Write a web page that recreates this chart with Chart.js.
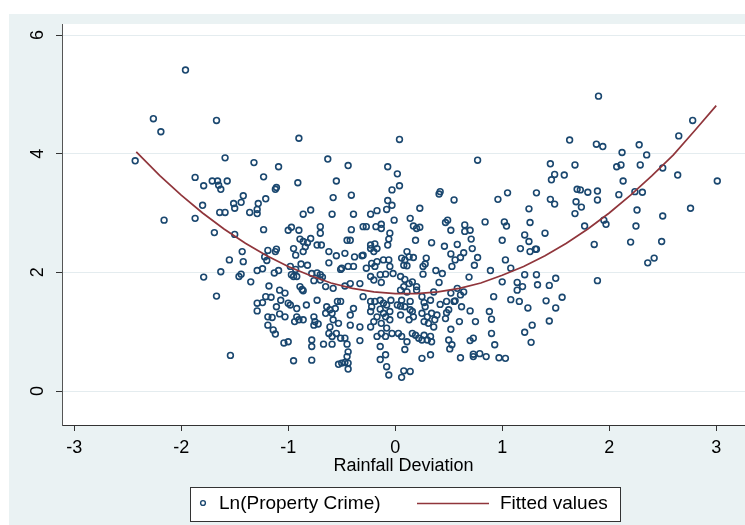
<!DOCTYPE html>
<html>
<head>
<meta charset="utf-8">
<script src="https://cdn.jsdelivr.net/npm/chart.js@4.4.0/dist/chart.umd.min.js"></script>
<style>
  html, body { margin: 0; padding: 0; background: #fff; }
  #wrap { width: 745px; height: 525px; }
</style>
</head>
<body>
<div id="wrap"><canvas id="myChart" width="745" height="525"></canvas></div>
<script>
// data

// rainfall deviation (x) of each county-year point
const rainfallDev = [
  // left part
  -1.96,-2.26,-1.67,-2.19,-2.43,-1.59,-1.32,-1.09,-1.23,-1.87,
  -1.79,-1.71,-1.66,-1.65,-1.63,-1.57,-1.12,-1.11,-1.42,-1.51,
  -1.44,-1.50,-1.28,-1.21,-1.29,-1.36,-1.29,-1.80,-1.64,-1.59,
  -1.87,-2.16,-1.69,-1.50,-1.23,-1.43,-1.19,-1.12,-1.11,-1.55,
  -1.42,-1.22,-1.20,-1.63,-1.79,-1.46,-1.44,-1.35,-1.29,-1.24,
  -1.13,-1.09,-1.67,-1.18,-1.29,-1.24,-1.21,-1.16,-1.29,-1.11,
  -1.19,-1.15,-1.19,-1.14,-1.12,-1.54,-1.08,
  // between -1 and 0
  -0.90,-0.63,-0.44,-0.07,-0.91,-0.55,-0.58,-0.41,-0.07,-0.03,
  -0.86,-0.79,-0.59,-0.39,-0.23,-0.17,-0.08,-0.03,-0.97,-1.00,
  -0.90,-0.70,-0.70,-0.41,-0.30,-0.27,-0.18,-0.13,-0.13,-0.01,
  -0.05,-0.89,-0.86,-0.82,-0.79,-0.84,-0.73,-0.69,-0.45,-0.42,
  -0.23,-0.19,-0.17,-0.06,-0.07,-0.95,-0.93,-0.86,-0.98,-0.93,
  -0.88,-0.82,-0.97,-0.95,-0.92,-0.78,-0.73,-0.70,-0.68,-0.62,
  -0.62,-0.55,-0.47,-0.38,-0.31,-0.50,-0.44,-0.51,-0.39,-0.30,
  -0.23,-0.20,-0.27,-0.22,-0.19,-0.17,-0.11,-0.05,-0.06,-0.14,
  -0.23,-0.09,-0.02,-0.76,-0.70,-0.65,-0.58,-0.42,-0.33,-0.47,
  -0.20,-0.13,-1.08,-1.03,-1.07,-0.89,-0.87,-0.86,-1.00,-0.98,
  -0.92,-0.83,-0.73,-0.64,-0.61,-0.56,-0.54,-0.51,-0.39,-0.30,
  -0.23,-0.19,-0.14,-0.11,-0.08,-0.04,-0.22,-0.14,-0.11,-0.05,
  -1.03,-0.92,-0.90,-0.86,-0.76,-0.75,-0.65,-0.59,-0.42,-0.23,
  -0.17,-0.09,-0.05,-0.94,-0.76,-0.72,-0.58,-0.53,-0.61,-0.42,
  -0.33,-0.23,-0.20,-0.13,-0.62,-0.55,-0.59,-0.51,-0.47,-0.67,
  -0.78,-0.59,-0.45,-0.33,-0.17,-0.13,-0.09,-0.08,-0.03,-1.04,
  -1.00,-0.78,-0.44,-0.45,-0.14,-0.95,-0.78,-0.53,-0.50,-0.47,
  -0.44,-0.44,-0.14,-0.09,-0.08,-0.06,
  // between 0 and 1
  0.04,0.77,0.02,0.04,0.41,0.42,0.55,0.96,1.05,0.23,
  0.14,0.17,0.20,0.23,0.47,0.49,0.52,0.65,0.70,0.65,
  0.84,1.02,1.04,0.19,0.34,0.46,0.58,0.71,1.00,0.11,
  0.06,0.09,0.13,0.17,0.08,0.11,0.26,0.29,0.28,0.52,
  0.56,0.61,0.64,0.72,0.77,0.74,0.53,1.03,0.89,1.08,
  0.38,0.44,0.69,0.26,0.05,0.09,0.13,0.16,0.08,0.05,
  0.11,0.20,0.20,0.41,0.36,0.52,0.58,0.61,0.64,0.55,
  1.00,0.92,1.08,0.02,0.06,0.05,0.09,0.14,0.14,0.25,
  0.27,0.28,0.33,0.42,0.48,0.50,0.56,0.62,0.70,0.05,
  0.16,0.17,0.13,0.25,0.30,0.34,0.39,0.37,0.31,0.36,
  0.27,0.47,0.48,0.60,0.75,0.52,0.88,0.90,0.03,0.06,
  0.11,0.16,0.19,0.22,0.25,0.27,0.30,0.33,0.34,0.50,
  0.53,0.70,0.73,0.51,0.90,0.93,0.09,0.25,0.33,0.61,
  0.73,0.73,0.79,0.85,0.97,1.03,0.08,0.14,0.06,
  // right part
  1.90,2.78,2.65,1.63,1.88,1.94,2.28,2.12,2.35,1.45,
  1.68,2.07,2.11,2.29,2.50,1.49,1.58,1.46,2.64,2.13,
  3.01,1.32,1.70,1.73,1.80,1.89,1.89,2.09,2.24,2.31,
  1.45,1.49,1.69,1.74,1.68,1.25,2.26,2.76,1.26,1.77,
  1.95,1.97,2.25,2.50,1.21,1.25,1.17,1.26,1.31,1.32,
  1.40,1.86,2.20,2.49,2.36,2.42,1.21,1.32,1.50,1.14,
  1.19,1.14,1.33,1.44,1.89,1.16,1.24,1.41,1.50,1.56,
  1.44,1.28,1.21,1.27
];

// Ln(Property Crime) (y), same order as rainfallDev
const lnCrime = [
  // left part
  5.41,4.59,4.56,4.37,3.88,3.93,3.85,3.78,3.61,3.60,
  3.46,3.54,3.54,3.47,3.40,3.54,3.40,3.43,3.29,3.16,
  3.18,3.08,3.16,3.24,3.06,3.01,2.99,3.13,3.01,3.01,
  2.91,2.88,2.67,2.64,2.72,2.35,2.37,2.35,2.39,2.21,
  2.18,2.26,2.20,2.01,1.92,1.93,1.97,1.84,2.03,2.06,
  1.99,2.03,1.60,1.77,1.48,1.49,1.59,1.58,1.35,1.42,
  1.25,1.24,1.11,1.03,0.96,0.60,1.30,
  // between -1 and 0
  4.26,3.91,3.80,3.78,3.51,3.54,3.26,3.30,3.21,3.39,
  2.98,3.05,2.98,2.98,2.98,3.04,3.06,3.13,2.76,2.71,
  2.71,2.77,2.66,2.72,2.77,2.77,2.77,2.81,2.74,2.88,
  2.66,2.56,2.52,2.50,2.57,2.43,2.46,2.46,2.54,2.54,
  2.46,2.48,2.40,2.56,2.46,2.40,2.29,2.35,2.10,2.05,
  2.14,2.12,1.96,1.93,1.93,1.98,1.99,1.96,1.92,2.35,
  2.16,2.28,2.32,2.26,2.28,2.07,2.10,2.05,2.10,2.29,
  2.40,2.35,2.07,2.15,2.10,2.18,2.21,2.10,2.21,1.96,
  1.93,1.97,1.98,1.86,1.87,1.76,1.73,1.81,1.81,1.77,
  1.87,1.83,1.70,1.65,1.53,1.76,1.71,1.69,1.48,1.45,
  1.39,1.45,1.53,1.42,1.37,1.39,1.51,1.51,1.39,1.59,
  1.51,1.51,1.53,1.48,1.45,1.53,1.42,1.38,1.31,1.34,
  1.25,1.25,1.20,1.20,1.25,1.17,1.31,1.31,1.28,1.34,
  1.25,1.25,1.20,1.17,1.11,1.13,1.20,1.14,1.08,1.11,
  1.08,1.08,1.17,1.14,0.97,0.97,0.92,0.89,0.89,0.79,
  0.86,0.79,0.79,0.85,0.92,0.97,0.92,1.06,0.97,0.81,
  0.83,0.75,0.66,0.58,0.75,0.51,0.52,0.45,0.47,0.48,
  0.47,0.37,0.53,0.61,0.41,0.27,
  // between 0 and 1
  4.24,3.89,3.66,3.46,3.32,3.36,3.22,3.23,3.34,3.08,
  2.91,2.78,2.74,2.76,2.84,2.88,2.71,2.80,2.71,2.69,
  2.85,2.85,2.78,2.54,2.50,2.44,2.47,2.56,2.54,2.35,
  2.24,2.21,2.26,2.25,2.12,2.11,2.10,2.24,2.14,2.31,
  2.21,2.25,2.33,2.40,2.25,2.12,2.10,2.21,2.03,2.07,
  2.03,1.98,1.92,1.97,1.93,1.88,1.81,1.84,1.76,1.70,
  1.67,1.76,1.70,1.83,1.67,1.65,1.73,1.62,1.67,1.51,
  1.84,1.59,1.54,1.45,1.53,1.43,1.42,1.51,1.37,1.59,
  1.49,1.42,1.53,1.46,1.51,1.37,1.52,1.42,1.35,1.28,
  1.34,1.25,1.20,1.31,1.25,1.31,1.28,1.20,1.14,1.08,
  1.17,1.22,1.32,1.17,1.17,1.04,1.34,1.21,0.97,0.92,
  0.83,0.97,0.94,0.89,0.86,0.94,0.86,0.92,0.83,0.86,
  0.78,0.85,0.89,0.71,0.97,0.78,0.70,0.55,0.61,0.56,
  0.58,0.62,0.63,0.58,0.56,0.55,0.34,0.33,0.23,
  // right part
  4.97,4.56,4.30,4.23,4.16,4.12,4.15,4.02,3.98,3.83,
  3.81,3.78,3.81,3.81,3.76,3.65,3.64,3.56,3.64,3.54,
  3.54,3.34,3.40,3.39,3.35,3.37,3.22,3.31,3.36,3.35,
  3.23,3.15,3.19,3.10,2.99,3.07,3.05,3.08,2.84,2.78,
  2.88,2.81,2.78,2.95,2.63,2.52,2.40,2.35,2.39,2.39,
  2.66,2.47,2.51,2.52,2.16,2.24,1.96,1.96,1.90,1.83,
  1.76,1.70,1.79,1.78,1.86,1.51,1.40,1.52,1.40,1.58,
  1.18,1.11,0.99,0.82
];

// fitted values curve
const fitX = [-2.42,-2.2,-2.0,-1.8,-1.6,-1.4,-1.2,-1.0,-0.8,-0.6,-0.4,-0.2,0,0.2,
              0.4,0.6,0.8,1.0,1.2,1.4,1.6,1.8,2.0,2.2,2.4,2.6,2.8,3.0];
const fitY = [4.03,3.63,3.30,3.00,2.73,2.49,2.28,2.10,1.95,1.82,1.73,1.67,1.64,1.64,
              1.67,1.73,1.82,1.95,2.10,2.28,2.49,2.73,3.00,3.30,3.63,3.98,4.39,4.81];

const xTicks = [-3, -2, -1, 0, 1, 2, 3];
const yTicks = [0, 2, 4, 6];

const navy = "#1a476f";
const maroon = "#90353b";
const fontFam = "'Liberation Sans', Arial, sans-serif";

// stata like grey frame + white plot region
const bgPlugin = {
  id: "bg",
  beforeDraw(chart) {
    const { ctx, chartArea: a, width, height } = chart;
    ctx.save();
    ctx.fillStyle = "#ffffff";
    ctx.fillRect(0, 0, width, height);
    ctx.fillStyle = "#eaf2f3";
    ctx.fillRect(9, 14, width - 9, height - 14);
    ctx.fillStyle = "#ffffff";
    ctx.fillRect(a.left, a.top, a.right - a.left, a.bottom - a.top);
    ctx.restore();
  },
};

// legend in a box under the axis title
const boxLegend = {
  id: "boxLegend",
  afterDraw(chart) {
    const ctx = chart.ctx;
    const ds = chart.data.datasets;
    ctx.save();
    ctx.fillStyle = "#ffffff";
    ctx.fillRect(190.5, 487.5, 430, 34);
    ctx.strokeStyle = "#333333";
    ctx.lineWidth = 1;
    ctx.strokeRect(190.5, 487.5, 430, 34);

    // marker
    ctx.beginPath();
    ctx.arc(203, 503, 2.4, 0, Math.PI * 2);
    ctx.strokeStyle = navy;
    ctx.lineWidth = 1.4;
    ctx.stroke();

    // line sample
    ctx.beginPath();
    ctx.moveTo(417, 503.5);
    ctx.lineTo(489, 503.5);
    ctx.strokeStyle = maroon;
    ctx.lineWidth = 1.5;
    ctx.stroke();

    ctx.fillStyle = "#000000";
    ctx.font = "19px " + fontFam;
    ctx.textBaseline = "middle";
    ctx.textAlign = "left";
    ctx.fillText(ds[0].label, 219, 504);
    ctx.fillText(ds[1].label, 500, 504);
    ctx.restore();
  },
};

const crimePoints = rainfallDev.map((x, i) => ({ x: x, y: lnCrime[i] }));
const fitPoints = fitX.map((x, i) => ({ x: x, y: fitY[i] }));

const ctx = document.getElementById("myChart").getContext("2d");

const myChart = new Chart(ctx, {
  type: "scatter",
  data: {
    datasets: [
      {
        label: "Ln(Property Crime)",
        data: crimePoints,
        pointStyle: "circle",
        pointRadius: 2.9,
        pointBorderWidth: 1.6,
        pointBorderColor: navy,
        pointBackgroundColor: "rgba(0,0,0,0)",
        order: 1,
      },
      {
        label: "Fitted values",
        data: fitPoints,
        showLine: true,
        borderColor: maroon,
        borderWidth: 1.7,
        pointRadius: 0,
        fill: false,
        tension: 0,
        order: 0,
      },
    ],
  },
  options: {
    responsive: false,
    animation: false,
    events: [],
    // no automatic padding: the plot region runs to the right edge
    layout: { autoPadding: false, padding: { left: 0, right: 0, top: 24, bottom: 48 } },
    plugins: {
      legend: { display: false },
      tooltip: { enabled: false },
    },
    scales: {
      x: {
        type: "linear",
        min: -3.114,
        max: 3.269,
        afterBuildTicks: (s) => { s.ticks = xTicks.map((v) => ({ value: v })); },
        afterFit: (s) => {
          s.height = 52;
          s.paddingLeft = 0;
          s.paddingRight = 0;
        },
        grid: { drawOnChartArea: false, drawTicks: true, tickLength: 6, tickColor: "#333333", tickWidth: 1 },
        border: { display: true, color: "#333333", width: 1 },
        ticks: { color: "#000000", font: { family: fontFam, size: 18 }, padding: 6, maxRotation: 0, autoSkip: false },
        title: {
          display: true,
          text: "Rainfall Deviation",
          color: "#000000",
          font: { family: fontFam, size: 18 },
          padding: { top: 0, bottom: 0 },
        },
      },
      y: {
        type: "linear",
        min: -0.573,
        max: 6.186,
        afterBuildTicks: (s) => { s.ticks = yTicks.map((v) => ({ value: v })); },
        afterFit: (s) => {
          s.width = 62;
          s.paddingTop = 0;
          s.paddingBottom = 0;
        },
        grid: { color: "#e4ecef", lineWidth: 1, drawTicks: true, tickLength: 6, tickColor: "#333333", tickWidth: 1 },
        border: { display: true, color: "#555555", width: 1 },
        ticks: {
          color: "#000000",
          font: { family: fontFam, size: 18 },
          padding: 13,
          minRotation: 90,
          maxRotation: 90,
          crossAlign: "center",
          autoSkip: false,
        },
      },
    },
  },
  plugins: [bgPlugin, boxLegend],
});
</script>
</body>
</html>
